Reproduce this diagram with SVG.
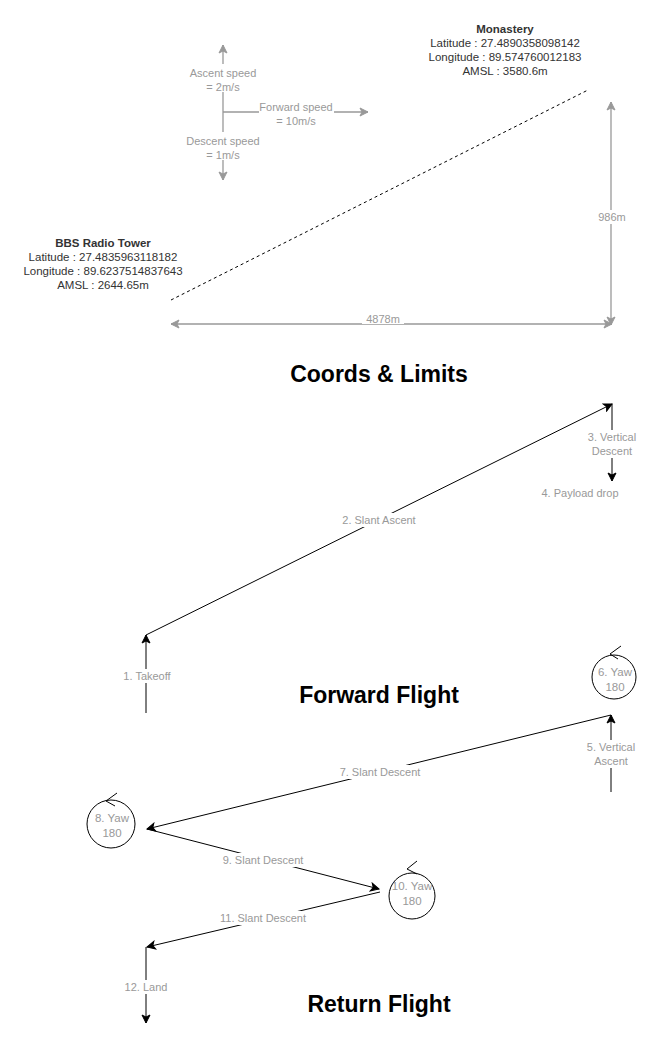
<svg xmlns="http://www.w3.org/2000/svg" width="651" height="1049" viewBox="0 0 651 1049">
<style>
text{font-family:"Liberation Sans",Arial,sans-serif;text-anchor:middle}
.lbl{font-size:11px;fill:#999}
.co{font-size:11.5px;fill:#333}
.cob{font-size:11.5px;fill:#333;font-weight:bold}
.ttl{font-size:23px;font-weight:bold;fill:#000}
.blk{stroke:#000;stroke-width:1;fill:none}
.gry{stroke:#999;stroke-width:1.3;fill:none}
.bg{fill:#fff}
.yaw{fill:#fff;stroke:#000;stroke-width:1}
</style>
<defs>
<marker id="ab" markerUnits="userSpaceOnUse" markerWidth="12" markerHeight="10" refX="9" refY="5" orient="auto-start-reverse" viewBox="0 0 12 10">
<path d="M1,1 L9,5 L1,9 L3,5 z" fill="#000" stroke="#000" stroke-width="1"/>
</marker>
<marker id="ag" markerUnits="userSpaceOnUse" markerWidth="12" markerHeight="10" refX="9" refY="5" orient="auto-start-reverse" viewBox="0 0 12 10">
<path d="M1,1 L9,5 L1,9 L3,5 z" fill="#999" stroke="#999" stroke-width="1"/>
</marker>
</defs>
<rect width="651" height="1049" fill="#fff"/>
<g id="connectors">
<line class="gry" x1="223" y1="180" x2="223" y2="45" marker-start="url(#ag)" marker-end="url(#ag)"/>
<line class="gry" x1="223" y1="112" x2="368" y2="112" marker-end="url(#ag)"/>
<line x1="171" y1="300" x2="588" y2="90" stroke="#000" stroke-width="1" stroke-dasharray="3,3"/>
<line class="gry" x1="171" y1="324" x2="612" y2="324" marker-start="url(#ag)" marker-end="url(#ag)"/>
<line class="gry" x1="611" y1="325" x2="611" y2="102" marker-start="url(#ag)" marker-end="url(#ag)"/>
<line class="blk" x1="146" y1="713" x2="146" y2="635" marker-end="url(#ab)"/>
<line class="blk" x1="146" y1="635" x2="612" y2="404" marker-end="url(#ab)"/>
<line class="blk" x1="612" y1="404" x2="612" y2="481" marker-end="url(#ab)"/>
<line class="blk" x1="611" y1="792" x2="611" y2="715" marker-end="url(#ab)"/>
<line class="blk" x1="611" y1="715" x2="147" y2="829" marker-end="url(#ab)"/>
<line class="blk" x1="147" y1="829" x2="379" y2="889" marker-end="url(#ab)"/>
<line class="blk" x1="380" y1="892" x2="147" y2="947" marker-end="url(#ab)"/>
<line class="blk" x1="146" y1="947" x2="146" y2="1023" marker-end="url(#ab)"/>
</g>
<g id="speed-labels">
<rect class="bg" x="186" y="64" width="74" height="28"/>
<text class="lbl" x="223" y="77">Ascent speed</text>
<text class="lbl" x="223" y="91">= 2m/s</text>
<rect class="bg" x="259" y="100" width="75" height="28"/>
<text class="lbl" x="296" y="111">Forward speed</text>
<text class="lbl" x="296" y="125">= 10m/s</text>
<rect class="bg" x="183" y="132" width="80" height="28"/>
<text class="lbl" x="223" y="145">Descent speed</text>
<text class="lbl" x="223" y="159">= 1m/s</text>
</g>
<g id="monastery">
<text class="cob" x="505" y="33">Monastery</text>
<text class="co" x="505" y="47">Latitude : 27.4890358098142</text>
<text class="co" x="505" y="61">Longitude : 89.574760012183</text>
<text class="co" x="505" y="75">AMSL : 3580.6m</text>
</g>
<g id="bbs-radio-tower">
<text class="cob" x="103" y="247">BBS Radio Tower</text>
<text class="co" x="103" y="261">Latitude : 27.4835963118182</text>
<text class="co" x="103" y="275">Longitude : 89.6237514837643</text>
<text class="co" x="103" y="289">AMSL : 2644.65m</text>
</g>
<g id="dim-labels">
<rect class="bg" x="362" y="313" width="42" height="11"/>
<text class="lbl" x="383" y="323">4878m</text>
<rect class="bg" x="597" y="210" width="30" height="14"/>
<text class="lbl" x="612" y="221">986m</text>
</g>
<g id="titles">
<text class="ttl" x="379" y="382">Coords &amp; Limits</text>
<text class="ttl" x="379" y="703">Forward Flight</text>
<text class="ttl" x="379" y="1012">Return Flight</text>
</g>
<g id="flight-labels">
<rect class="bg" x="120" y="669" width="54" height="14"/>
<text class="lbl" x="147" y="680">1. Takeoff</text>
<rect class="bg" x="341" y="513" width="76" height="14"/>
<text class="lbl" x="379" y="524">2. Slant Ascent</text>
<rect class="bg" x="588" y="430" width="48" height="28"/>
<text class="lbl" x="612" y="441">3. Vertical</text>
<text class="lbl" x="612" y="455">Descent</text>
<text class="lbl" x="580" y="497">4. Payload drop</text>
<rect class="bg" x="587" y="740" width="48" height="28"/>
<text class="lbl" x="611" y="751">5. Vertical</text>
<text class="lbl" x="611" y="765">Ascent</text>
<rect class="bg" x="338" y="765" width="84" height="14"/>
<text class="lbl" x="380" y="776">7. Slant Descent</text>
<rect class="bg" x="221" y="853" width="84" height="14"/>
<text class="lbl" x="263" y="864">9. Slant Descent</text>
<rect class="bg" x="218" y="911" width="90" height="14"/>
<text class="lbl" x="263" y="922">11. Slant Descent</text>
<rect class="bg" x="125" y="980" width="42" height="14"/>
<text class="lbl" x="146" y="991">12. Land</text>
</g>
<g id="yaw-6">
<circle class="yaw" cx="614" cy="677" r="22"/>
<path class="blk" d="M621,646 L610,654 L618,659"/>
<text class="lbl" x="615" y="676" style="font-size:11.5px">6. Yaw</text>
<text class="lbl" x="615" y="691" style="font-size:11.5px">180</text>
</g>
<g id="yaw-8">
<circle class="yaw" cx="111" cy="824" r="24"/>
<path class="blk" d="M117,793 L106,801 L115,806"/>
<text class="lbl" x="112" y="822" style="font-size:11.5px">8. Yaw</text>
<text class="lbl" x="112" y="837" style="font-size:11.5px">180</text>
</g>
<g id="yaw-10">
<circle class="yaw" cx="412" cy="896" r="23"/>
<path class="blk" d="M417,861 L407,869 L417,874"/>
<text class="lbl" x="412" y="890" style="font-size:11.5px">10. Yaw</text>
<text class="lbl" x="412" y="905" style="font-size:11.5px">180</text>
</g>
</svg>
